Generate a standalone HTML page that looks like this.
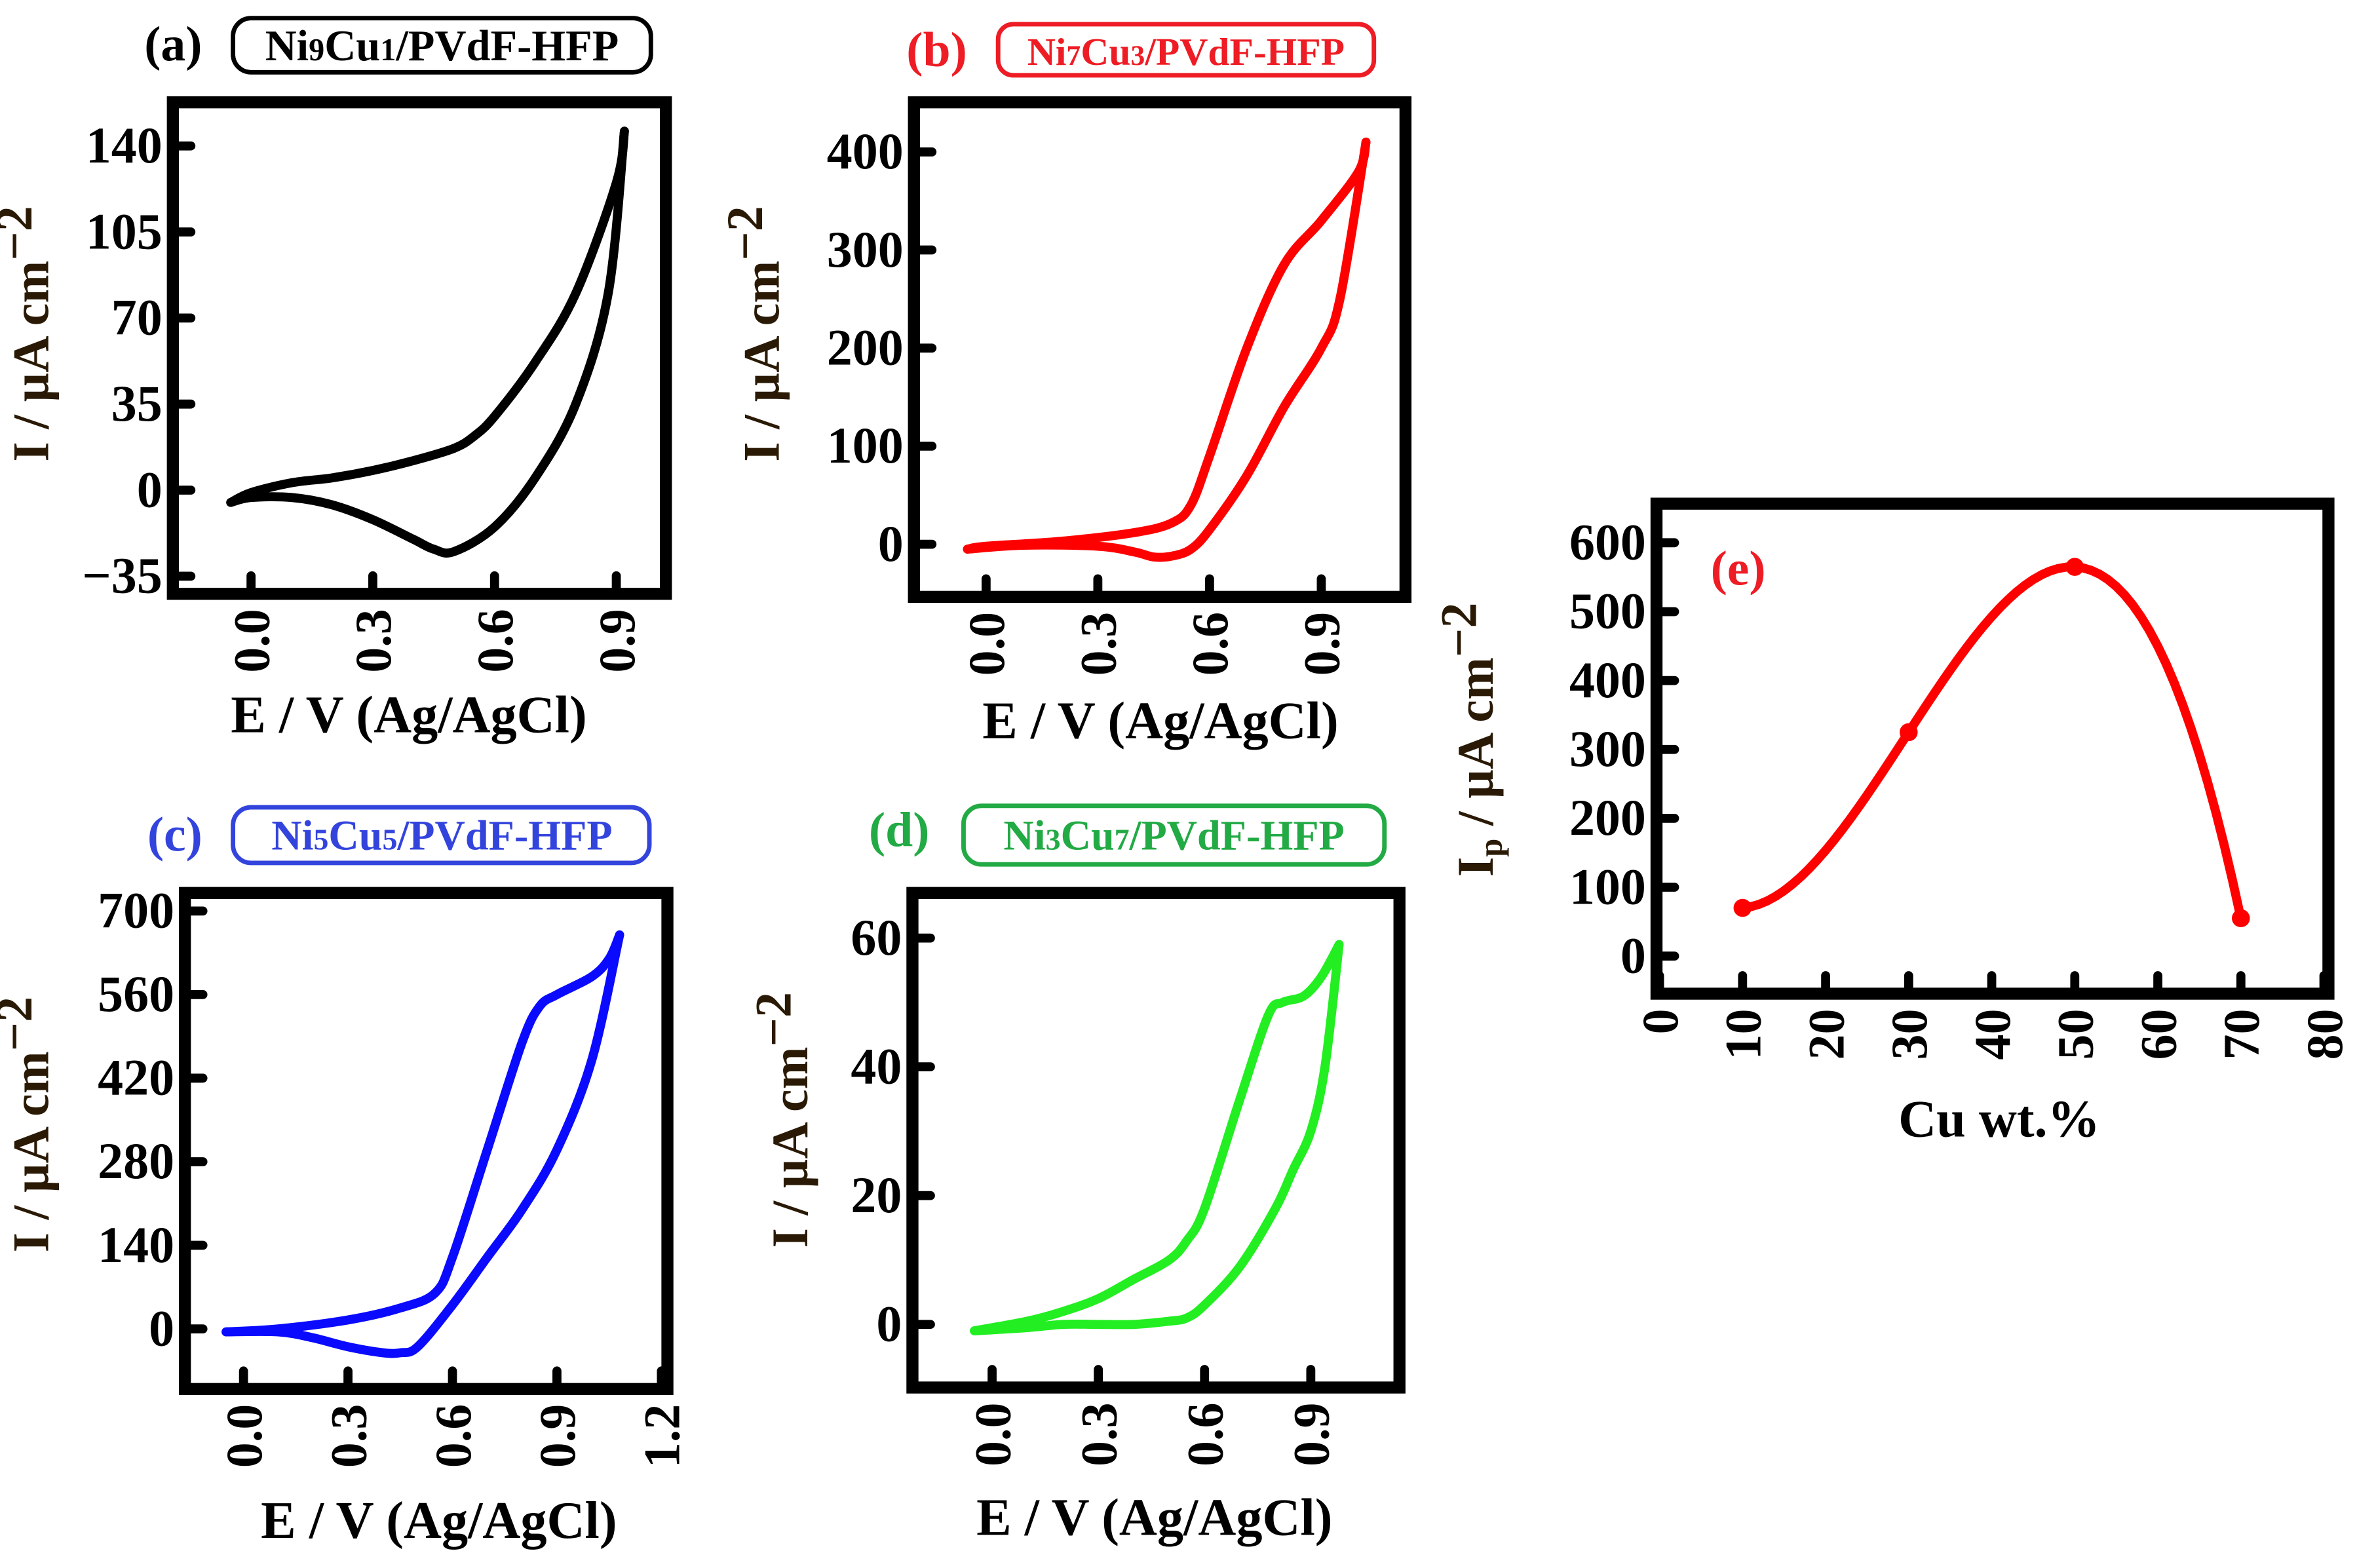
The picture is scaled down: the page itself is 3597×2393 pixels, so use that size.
<!DOCTYPE html>
<html><head><meta charset="utf-8"><style>
html,body{margin:0;padding:0;background:#fff}
svg{display:block}
text{font-family:"Liberation Serif",serif;font-weight:bold}
</style></head><body>
<svg id="fig" width="3597" height="2393" viewBox="0 0 1568 1043" xmlns="http://www.w3.org/2000/svg">
  <g>
    <text x="96" y="40" font-size="33" fill="#000">(a)</text>
    <rect x="155" y="12" width="278" height="36" rx="12" fill="none" stroke="#000" stroke-width="3"/>
    <text x="294" y="40" font-size="29" text-anchor="middle" fill="#000">Ni<tspan font-size="21">9</tspan>Cu<tspan font-size="21">1</tspan>/PVdF-HFP</text>
  </g>
  <g>
    <text x="603" y="44" font-size="33" fill="#ee1c24">(b)</text>
    <rect x="664" y="16" width="250" height="34" rx="10" fill="none" stroke="#ee1c24" stroke-width="3"/>
    <text x="789" y="43" font-size="26" text-anchor="middle" fill="#ee1c24">Ni<tspan font-size="19">7</tspan>Cu<tspan font-size="19">3</tspan>/PVdF-HFP</text>
  </g>
  <g>
    <text x="98" y="566" font-size="33" fill="#3344dd">(c)</text>
    <rect x="155" y="537" width="277" height="37" rx="12" fill="none" stroke="#3344dd" stroke-width="3"/>
    <text x="294" y="565" font-size="28" text-anchor="middle" fill="#3344dd">Ni<tspan font-size="20">5</tspan>Cu<tspan font-size="20">5</tspan>/PVdF-HFP</text>
  </g>
  <g>
    <text x="578" y="563" font-size="33" fill="#22aa44">(d)</text>
    <rect x="641" y="536" width="280" height="39" rx="12" fill="none" stroke="#22aa44" stroke-width="3"/>
    <text x="781" y="565" font-size="28" text-anchor="middle" fill="#22aa44">Ni<tspan font-size="20">3</tspan>Cu<tspan font-size="20">7</tspan>/PVdF-HFP</text>
  </g>
  <text x="1138" y="389" font-size="33" fill="#ee1c24">(e)</text>
</svg>
<script>
// Panel (a) data
const aFwdE=[-0.05,0,0.1,0.2,0.3,0.4,0.5,0.55,0.6,0.7,0.8,0.9,0.92];
const aFwdI=[-5,-1,3,5,8,12,17,22,30,52,80,125,146];
const aRevE=[0.92,0.88,0.8,0.7,0.6,0.5,0.45,0.4,0.3,0.2,0.1,0,-0.05];
const aRevI=[146,80,35,5,-15,-25,-24,-20,-12,-6,-3,-3,-5];
const aYTicks=[-35,0,35,70,105,140];
const aXTicks=[0,0.3,0.6,0.9];
// Panel (b) data
const bFwdE=[-0.05,0,0.2,0.4,0.5,0.55,0.6,0.7,0.8,0.9,1.0,1.02];
const bFwdI=[-5,-2,3,12,22,40,90,200,285,330,380,410];
const bRevE=[1.02,0.95,0.9,0.8,0.7,0.6,0.55,0.5,0.45,0.4,0.3,0.1,-0.05];
const bRevI=[410,250,200,140,70,15,-5,-12,-13,-8,-2,-1,-5];
const bYTicks=[0,100,200,300,400];
const bXTicks=[0,0.3,0.6,0.9];
// Panel (c) data
const cFwdE=[-0.05,0.1,0.3,0.45,0.55,0.6,0.7,0.8,0.85,0.9,1.0,1.05,1.08];
const cFwdI=[-5,0,15,35,60,120,300,480,540,560,590,620,660];
const cRevE=[1.08,1.0,0.9,0.8,0.7,0.6,0.5,0.45,0.4,0.3,0.2,0.1,-0.05];
const cRevI=[660,450,300,200,120,40,-30,-40,-40,-30,-15,-5,-5];
const cYTicks=[0,140,280,420,560,700];
const cXTicks=[0,0.3,0.6,0.9,1.2];
// Panel (d) data
const dFwdE=[-0.05,0.1,0.2,0.3,0.4,0.5,0.55,0.6,0.7,0.78,0.82,0.88,0.93,0.98];
const dFwdI=[-1,0.5,2,4,7,10,13,18,35,48,50,51,54,59];
const dRevE=[0.98,0.94,0.9,0.85,0.8,0.7,0.6,0.55,0.5,0.4,0.3,0.2,0.1,-0.05];
const dRevI=[59,40,30,24,18,9,3,1,0.5,0,0,0,-0.5,-1];
const dYTicks=[0,20,40,60];
const dXTicks=[0,0.3,0.6,0.9];
// Panel (e) data
const eCu=[10,30,50,70];
const eIp=[70,325,565,55];
const eYTicks=[0,100,200,300,400,500,600];
const eXTicks=[0,10,20,30,40,50,60,70,80];

const NS="http://www.w3.org/2000/svg";
const svg=document.getElementById('fig');
function mk(tag,attrs,parent){const el=document.createElementNS(NS,tag);for(const k in attrs)el.setAttribute(k,attrs[k]);(parent||svg).appendChild(el);return el;}
function lin(d0,d1,p0,p1){return v=>p0+(v-d0)*(p1-p0)/(d1-d0);}
function smoothPath(pts){
  let d='M'+pts[0][0]+','+pts[0][1];
  for(let i=0;i<pts.length-1;i++){
    const p0=pts[Math.max(0,i-1)],p1=pts[i],p2=pts[i+1],p3=pts[Math.min(pts.length-1,i+2)];
    const c1=[p1[0]+(p2[0]-p0[0])/6,p1[1]+(p2[1]-p0[1])/6];
    const c2=[p2[0]-(p3[0]-p1[0])/6,p2[1]-(p3[1]-p1[1])/6];
    d+=' C'+c1+' '+c2+' '+p2;
  }
  return d;
}
function lagrange(xs,ys,x){
  let s=0;
  for(let i=0;i<xs.length;i++){let t=ys[i];for(let j=0;j<xs.length;j++){if(j!==i)t*=(x-xs[j])/(xs[i]-xs[j]);}s+=t;}
  return s;
}
function panel(cfg){
  const g=mk('g',{});
  
  
  const {L,T,R,B}=cfg;
  const fr=mk('rect',{x:L,y:T,width:R-L,height:B-T,fill:'none',stroke:'#000','stroke-width':8},g);
  
  
  cfg.yt.forEach(v=>{
    const y=cfg.ys(v);
    const t=mk('line',{x1:L,x2:L+12,y1:y,y2:y,stroke:'#000','stroke-width':6,'stroke-linecap':'round'},g);
    
    
    const lb=mk('text',{x:L-7,y:y+11,'font-size':cfg.tfs||34,'text-anchor':'end',fill:'#000'},g);
    
    
    lb.textContent=(v<0?'\u2212'+(-v):String(v));
  });
  cfg.xt.forEach(v=>{
    const x=cfg.xs(v);
    const t=mk('line',{x1:x,x2:x,y1:B,y2:B-12,stroke:'#000','stroke-width':6,'stroke-linecap':'round'},g);
    
    
    const ly=B+10;
    const lb=mk('text',{x:x,y:ly,'font-size':cfg.tfs||34,'text-anchor':'end',fill:'#000',transform:'rotate(-90 '+x+' '+ly+')',dy:'0.35em'},g);
    
    
    lb.textContent=cfg.xfmt(v);
  });
  const yt=mk('text',{x:cfg.ytx,y:cfg.yty,'font-size':34,'text-anchor':'middle',fill:'#2a1a05',transform:'rotate(-90 '+cfg.ytx+' '+cfg.yty+')'},g);
  
  
  if(cfg.ip){yt.innerHTML='I<tspan font-size="22" dy="6">p</tspan><tspan dy="-6"> / \u00b5A cm</tspan><tspan dy="-11">\u22122</tspan>';}
  else{yt.innerHTML='I / \u00b5A cm<tspan dy="-11">\u22122</tspan>';}
  const xt=mk('text',{x:cfg.xtx,y:cfg.xty,'font-size':35,'text-anchor':'middle',fill:'#000'},g);
  
  
  xt.textContent=cfg.xtitle;
  return g;
}
function cv(cfg,fE,fI,rE,rI,col){
  const g=panel(cfg);
  const pts=fE.map((e,i)=>[cfg.xs(e),cfg.ys(fI[i])]);
  const pts2=rE.map((e,i)=>[cfg.xs(e),cfg.ys(rI[i])]);
  const p1=mk('path',{d:smoothPath(pts),fill:'none',stroke:col,'stroke-width':6,'stroke-linejoin':'round','stroke-linecap':'round'},g);
  
  
  const p2=mk('path',{d:smoothPath(pts2),fill:'none',stroke:col,'stroke-width':6,'stroke-linejoin':'round','stroke-linecap':'round'},g);
  
  
}
const fmt1=v=>v.toFixed(1);
const XT='E / V (Ag/AgCl)';
cv({name:'panel-a-chart',L:115,T:68,R:443,B:395,ys:lin(0,140,326,97),xs:lin(0,0.9,167,410),yt:aYTicks,xt:aXTicks,xfmt:fmt1,ytx:32,yty:222,xtx:272,xty:487,xtitle:XT},aFwdE,aFwdI,aRevE,aRevI,'#000');
cv({name:'panel-b-chart',L:608,T:68,R:935,B:397,ys:lin(0,400,362,101),xs:lin(0,0.9,656,879),yt:bYTicks,xt:bXTicks,xfmt:fmt1,ytx:518,yty:222,xtx:772,xty:491,xtitle:XT},bFwdE,bFwdI,bRevE,bRevI,'#ff0000');
cv({name:'panel-c-chart',L:123,T:594,R:444,B:924,ys:lin(0,700,884,606),xs:lin(0,1.2,162,440),yt:cYTicks,xt:cXTicks,xfmt:fmt1,ytx:32,yty:748,xtx:292,xty:1023,xtitle:XT},cFwdE,cFwdI,cRevE,cRevI,'#0a0aff');
cv({name:'panel-d-chart',L:607,T:594,R:931,B:923,ys:lin(0,60,881,624),xs:lin(0,0.9,660,872),yt:dYTicks,xt:dXTicks,xfmt:fmt1,ytx:537,yty:745,xtx:768,xty:1021,xtitle:XT},dFwdE,dFwdI,dRevE,dRevI,'#22ee22');
(function(){
  const cfg={name:'panel-e-chart',L:1102,T:335,R:1549,B:661,ys:lin(0,600,636,361),xs:lin(0,80,1104,1546),yt:eYTicks,xt:eXTicks,xfmt:v=>String(v),ytx:993,yty:492,xtx:1330,xty:756,xtitle:'Cu wt.%',ip:true};
  const g=panel(cfg);
  const x0=eCu[0],x1=eCu[eCu.length-1];
  let d='';
  for(let k=0;k<=60;k++){
    const x=x0+(x1-x0)*k/60;
    d+=(k?' L':'M')+cfg.xs(x).toFixed(2)+','+cfg.ys(lagrange(eCu,eIp,x)).toFixed(2);
  }
  const p=mk('path',{d:d,fill:'none',stroke:'#ff0000','stroke-width':6,'stroke-linecap':'round','stroke-linejoin':'round'},g);
  
  
  eCu.forEach((c,i)=>{
    const m=mk('circle',{cx:cfg.xs(c),cy:cfg.ys(eIp[i]),r:6,fill:'#ff0000'},g);
    
    
  });
})();
</script>
</body></html>
